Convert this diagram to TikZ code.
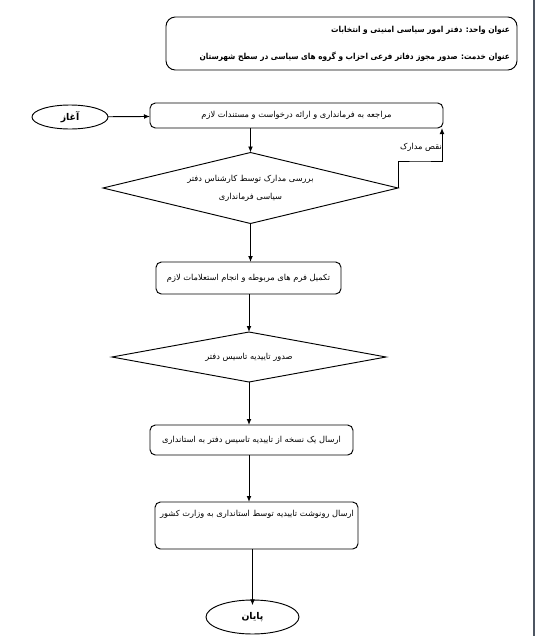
\documentclass[tikz,border=0pt]{standalone}
\usepackage{fontspec}
\usepackage{graphicx}
\TeXXeTstate=1
\newfontfamily\fafont[Script=Arabic]{DejaVu Sans}
\usetikzlibrary{shapes.geometric,arrows.meta}
\newcommand\fatext[1]{{\fafont\beginR #1\endR}}
\definecolor{edgebar}{RGB}{78,86,98}
\tikzset{
  every node/.style={inner sep=0pt, outer sep=0pt},
  line/.style={draw=black, line width=0.7pt},
  arr/.style={line, -{Latex[length=4.5pt,width=3.6pt]}},
  roundbox/.style={line, rectangle, rounded corners=4pt},
  decision/.style={line, diamond},
  terminal/.style={line, ellipse},
  small/.style={font=\fontsize{6.2}{7.5}\selectfont},
  titlefont/.style={font=\fontsize{6.2}{7}\selectfont\bfseries},
  termfont/.style={font=\fontsize{7}{9}\selectfont\bfseries},
}
\begin{document}
\begin{tikzpicture}[x=0.75pt,y=-0.75pt]
\useasboundingbox (0,0) rectangle (536,636);
\fill[edgebar] (532.5,0) rectangle (535,636);
% title
\node[roundbox, rounded corners=7pt, minimum width=263.25pt, minimum height=39.75pt] (title) at (341.5,43.5) {};
\node[titlefont, anchor=east] (t1) at (510,30) {\scalebox{0.9}[1]{\fatext{عنوان واحد: دفتر امور سیاسی امنیتی و انتخابات}}};
\node[titlefont, anchor=east] (t2) at (510,57) {\scalebox{0.89}[1]{\fatext{عنوان خدمت: صدور مجوز دفاتر فرعی احزاب و گروه های سیاسی در سطح شهرستان}}};
% start
\node[terminal, termfont, minimum width=57pt, minimum height=18pt] (start) at (70,117) {\fatext{آغاز}};
\node[roundbox, small, minimum width=219.75pt, minimum height=18.75pt] (b1) at (296.5,115.5) {\fatext{مراجعه به فرمانداری و ارائه درخواست و مستندات لازم}};
\node[decision, small, aspect=4.15, minimum width=221.25pt, minimum height=53.25pt, align=center] (d1) at (250.5,188) {\fatext{بررسی مدارک توسط کارشناس دفتر}\\[6pt]\fatext{سیاسی فرمانداری}};
\node[roundbox, small, minimum width=138.75pt, minimum height=24pt] (b2) at (248.5,278) {\fatext{تکمیل فرم های مربوطه و انجام استعلامات لازم}};
\node[decision, small, aspect=5.5, minimum width=205.5pt, minimum height=37.5pt] (d2) at (249,357) {\fatext{صدور تاییدیه تاسیس دفتر}};
\node[roundbox, small, minimum width=152.25pt, minimum height=22.5pt] (b3) at (251.5,440) {\fatext{ارسال یک نسخه از تاییدیه تاسیس دفتر به استانداری}};
\node[roundbox, minimum width=152.25pt, minimum height=35.25pt] (b4) at (256.5,525.5) {};
\node[small] (b4t) at (257,514) {\fatext{ارسال رونوشت تاییدیه توسط استانداری به وزارت کشور}};
\node[terminal, termfont, minimum width=69.75pt, minimum height=25.5pt] (end) at (252.5,617) {\fatext{پایان}};
% connectors
\draw[arr] (start) -- (b1);
\draw[arr] (b1.south -| d1.north) -- (d1.north);
\coordinate (fbk) at (420,161);
\draw[arr] (d1.east) |- (fbk) -| ([xshift=-0.75pt]b1.south east);
\node[small] (fbl) at (421,147) {\fatext{نقص مدارک}};
\draw[arr] (d1.south) -- (d1.south |- b2.north);
\draw[arr] (b2.south -| d2.north) -- (d2.north);
\draw[arr] (d2.south) -- (d2.south |- b3.north);
\draw[arr] (d2.south |- b3.south) -- (d2.south |- b4.north);
\draw[arr] (end.north |- b4.south) -- ([yshift=-4pt]end.north);
\end{tikzpicture}
\end{document}
